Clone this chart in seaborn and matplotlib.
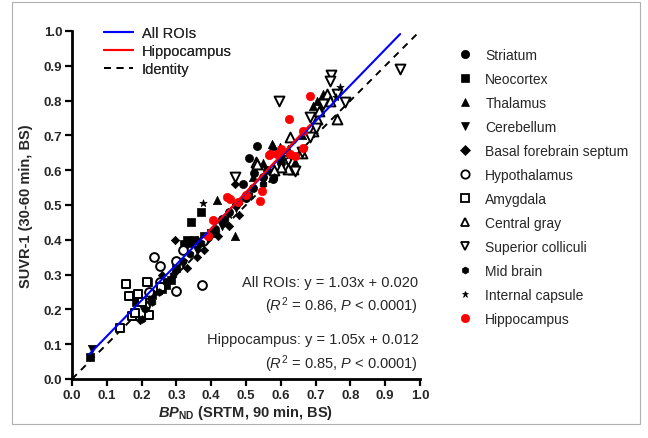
import matplotlib
matplotlib.use("Agg")
import matplotlib.pyplot as plt
from matplotlib.lines import Line2D
from matplotlib.patches import Rectangle
import numpy as np
import pandas as pd
import seaborn as sns

# ---- data: (BPnd, SUVR-1) per region ----
striatum_x = [0.532, 0.509, 0.523, 0.578, 0.55, 0.49, 0.50, 0.56, 0.60, 0.45, 0.41, 0.43, 0.47, 0.52]
striatum_y = [0.670, 0.635, 0.592, 0.575, 0.58, 0.56, 0.52, 0.60, 0.62, 0.48, 0.43, 0.46, 0.50, 0.55]

neocortex_x = [0.052, 0.371, 0.342, 0.322, 0.340, 0.285, 0.259, 0.218, 0.184, 0.30, 0.33, 0.27, 0.23, 0.35, 0.40, 0.38]
neocortex_y = [0.063, 0.480, 0.450, 0.388, 0.390, 0.285, 0.260, 0.279, 0.220, 0.32, 0.40, 0.27, 0.24, 0.40, 0.42, 0.41]

thalamus_x = [0.721, 0.693, 0.704, 0.713, 0.578, 0.598, 0.641, 0.575, 0.417, 0.468, 0.55, 0.60, 0.52, 0.66, 0.62]
thalamus_y = [0.819, 0.784, 0.799, 0.776, 0.670, 0.667, 0.624, 0.675, 0.514, 0.411, 0.62, 0.64, 0.58, 0.70, 0.66]

cerebellum_x = [0.057, 0.43, 0.47, 0.36, 0.50, 0.55, 0.40, 0.32, 0.26, 0.58, 0.62]
cerebellum_y = [0.086, 0.44, 0.49, 0.37, 0.52, 0.57, 0.41, 0.33, 0.28, 0.59, 0.63]

septum_x = [0.296, 0.195, 0.21, 0.33, 0.36, 0.38, 0.26, 0.30, 0.42, 0.45, 0.48, 0.23, 0.36, 0.468]
septum_y = [0.400, 0.170, 0.21, 0.32, 0.35, 0.37, 0.30, 0.31, 0.41, 0.44, 0.47, 0.25, 0.40, 0.560]

hypothalamus_x = [0.236, 0.253, 0.299, 0.374, 0.253, 0.376, 0.21, 0.30, 0.22, 0.32]
hypothalamus_y = [0.350, 0.326, 0.253, 0.270, 0.279, 0.397, 0.21, 0.34, 0.25, 0.37]

amygdala_x = [0.155, 0.164, 0.190, 0.172, 0.138, 0.220, 0.215, 0.256, 0.20, 0.18]
amygdala_y = [0.273, 0.238, 0.244, 0.181, 0.147, 0.184, 0.279, 0.264, 0.22, 0.19]

central_gray_x = [0.761, 0.704, 0.693, 0.626, 0.635, 0.620, 0.529, 0.532, 0.733, 0.74, 0.66, 0.60, 0.71, 0.58]
central_gray_y = [0.747, 0.747, 0.713, 0.695, 0.603, 0.603, 0.623, 0.618, 0.819, 0.80, 0.65, 0.61, 0.77, 0.60]

colliculi_x = [0.943, 0.744, 0.741, 0.761, 0.784, 0.684, 0.684, 0.660, 0.595, 0.640, 0.468, 0.70, 0.72, 0.62]
colliculi_y = [0.891, 0.874, 0.856, 0.819, 0.796, 0.753, 0.695, 0.652, 0.800, 0.598, 0.580, 0.72, 0.79, 0.63]

midbrain_x = [0.20, 0.21, 0.23, 0.25, 0.32, 0.34, 0.29, 0.44, 0.48, 0.51, 0.55, 0.58, 0.37, 0.27]
midbrain_y = [0.172, 0.20, 0.22, 0.25, 0.34, 0.36, 0.30, 0.46, 0.51, 0.53, 0.56, 0.58, 0.39, 0.28]

capsule_x = [0.376, 0.77, 0.45, 0.22, 0.30, 0.52, 0.62, 0.36, 0.76]
capsule_y = [0.506, 0.839, 0.47, 0.23, 0.32, 0.55, 0.64, 0.38, 0.81]

hippocampus_x = [0.684, 0.624, 0.664, 0.664, 0.566, 0.589, 0.626, 0.641, 0.546, 0.540,
                 0.569, 0.445, 0.454, 0.477, 0.405, 0.391, 0.600, 0.500]
hippocampus_y = [0.813, 0.747, 0.713, 0.664, 0.644, 0.647, 0.647, 0.641, 0.540, 0.511,
                 0.647, 0.523, 0.517, 0.509, 0.457, 0.411, 0.660, 0.530]

# regression results
all_slope, all_intercept, all_r2 = 1.03, 0.020, 0.86
hip_slope, hip_intercept, hip_r2 = 1.05, 0.012, 0.85
all_xrange = [0.05, 0.943]
hip_xrange = [0.391, 0.684]

# ---- styling ----
sns.set_theme(style="ticks")
plt.rcParams["font.family"] = ["Liberation Sans", "DejaVu Sans"]
plt.rcParams["mathtext.fontset"] = "custom"
plt.rcParams["mathtext.rm"] = "Liberation Sans"
plt.rcParams["mathtext.it"] = "Liberation Sans:italic"
plt.rcParams["mathtext.bf"] = "Liberation Sans:bold"
plt.rcParams["mathtext.bfit"] = "Liberation Sans:italic:bold"

fig = plt.figure(figsize=(6.48, 4.39), dpi=100)
ax = fig.add_axes([72 / 648, 59 / 439, 348 / 648, 348 / 439])

# region: (label, xs, ys, marker, filled, color, size)
regions = [
    ("Striatum", striatum_x, striatum_y, "o", True, "black", 34),
    ("Neocortex", neocortex_x, neocortex_y, "s", True, "black", 34),
    ("Thalamus", thalamus_x, thalamus_y, "^", True, "black", 36),
    ("Cerebellum", cerebellum_x, cerebellum_y, "v", True, "black", 36),
    ("Basal forebrain septum", septum_x, septum_y, "D", True, "black", 18),
    ("Hypothalamus", hypothalamus_x, hypothalamus_y, "o", False, "black", 40),
    ("Amygdala", amygdala_x, amygdala_y, "s", False, "black", 40),
    ("Central gray", central_gray_x, central_gray_y, "^", False, "black", 50),
    ("Superior colliculi", colliculi_x, colliculi_y, "v", False, "black", 50),
    ("Mid brain", midbrain_x, midbrain_y, "h", True, "black", 30),
    ("Internal capsule", capsule_x, capsule_y, "*", True, "black", 30),
    ("Hippocampus", hippocampus_x, hippocampus_y, "o", True, "#ff0000", 36),
]

# identity line
ident = pd.DataFrame({"x": [0.0, 1.0], "y": [0.0, 1.0]})
sns.lineplot(data=ident, x="x", y="y", ax=ax, color="black", lw=1.4,
             linestyle=(0, (3.5, 3)), zorder=1)

for label, xs, ys, mk, filled, col, s in regions:
    df = pd.DataFrame({"x": xs, "y": ys})
    if filled:
        sns.scatterplot(data=df, x="x", y="y", ax=ax, marker=mk, s=s,
                        color=col, edgecolor=col, linewidth=0.5, zorder=3)
    else:
        sns.scatterplot(data=df, x="x", y="y", ax=ax, marker=mk, s=s,
                        facecolor="white", edgecolor=col, linewidth=1.4, zorder=3)

# fitted regression lines from the reported equations
fit_all = pd.DataFrame({"x": all_xrange,
                        "y": [all_slope * v + all_intercept for v in all_xrange]})
fit_hip = pd.DataFrame({"x": hip_xrange,
                        "y": [hip_slope * v + hip_intercept for v in hip_xrange]})
sns.lineplot(data=fit_all, x="x", y="y", ax=ax, color="#0000ff", lw=1.5, zorder=4)
sns.lineplot(data=fit_hip, x="x", y="y", ax=ax, color="#ff0000", lw=1.5, zorder=5)

ax.set_xlim(0, 1.0)
ax.set_ylim(0, 1.0)
ticks = np.round(np.arange(0, 1.01, 0.1), 1)
ax.set_xticks(ticks)
ax.set_yticks(ticks)
ax.set_xticklabels([f"{t:.1f}" for t in ticks], fontweight="bold", fontsize=9.5)
ax.set_yticklabels([f"{t:.1f}" for t in ticks], fontweight="bold", fontsize=9.5)
ax.tick_params(axis="both", direction="out", length=5, width=1.6, pad=2, color="black")
for side in ("left", "bottom"):
    ax.spines[side].set_linewidth(2)
    ax.spines[side].set_color("black")
sns.despine(ax=ax)

ax.set_xlabel(r"$\mathbfit{BP}_{\mathbf{ND}}$ (SRTM, 90 min, BS)",
              fontweight="bold", fontsize=10.5, labelpad=2)
ax.set_ylabel("SUVR-1 (30-60 min, BS)", fontweight="bold", fontsize=10.5, labelpad=8)

# equation annotations
txt_kw = dict(ha="right", va="center", fontsize=10.5, transform=ax.transAxes)
ax.text(0.995, (380 - 283) / 348,
        f"All ROIs: y = {all_slope:.2f}x + {all_intercept:.3f}", **txt_kw)
ax.text(0.995, (380 - 306) / 348,
        rf"($\it{{R}}^2$ = {all_r2:.2f}, $\it{{P}}$ < 0.0001)", **txt_kw)
ax.text(0.995, (380 - 340) / 348,
        f"Hippocampus: y = {hip_slope:.2f}x + {hip_intercept:.3f}", **txt_kw)
ax.text(0.995, (380 - 364) / 348,
        rf"($\it{{R}}^2$ = {hip_r2:.2f}, $\it{{P}}$ < 0.0001)", **txt_kw)

# line legend inside the axes
line_handles = [
    Line2D([], [], color="#0000ff", lw=1.5, label="All ROIs"),
    Line2D([], [], color="#ff0000", lw=1.5, label="Hippocampus"),
    Line2D([], [], color="black", lw=1.4, linestyle=(0, (3.5, 3)), label="Identity"),
]
leg1 = ax.legend(handles=line_handles, loc="upper left",
                 bbox_to_anchor=(0.075, 1.03), frameon=False, fontsize=10.5,
                 handlelength=2.0, handletextpad=0.6, labelspacing=0.25,
                 borderaxespad=0)
ax.add_artist(leg1)

# marker legend to the right of the axes
marker_handles = []
for label, xs, ys, mk, filled, col, s in regions:
    ms = 6.0 if mk not in ("D", "*", "h") else 5.0
    marker_handles.append(Line2D([], [], linestyle="none", marker=mk, markersize=ms,
                                 markerfacecolor=col if filled else "white",
                                 markeredgecolor=col, markeredgewidth=1.3 if not filled else 0.5,
                                 label=label))
fig.legend(handles=marker_handles, loc="upper left",
           bbox_to_anchor=(452 / 648, 1 - 43 / 439), frameon=False, fontsize=10,
           handlelength=1.0, handletextpad=1.0, labelspacing=0.72, borderaxespad=0)

# thin figure frame
fig.add_artist(Rectangle((12 / 648, 14 / 439), 628 / 648, 422 / 439,
                         transform=fig.transFigure, fill=False,
                         edgecolor="#b0b0b0", lw=0.8))

fig.savefig("out.png", dpi=100)
